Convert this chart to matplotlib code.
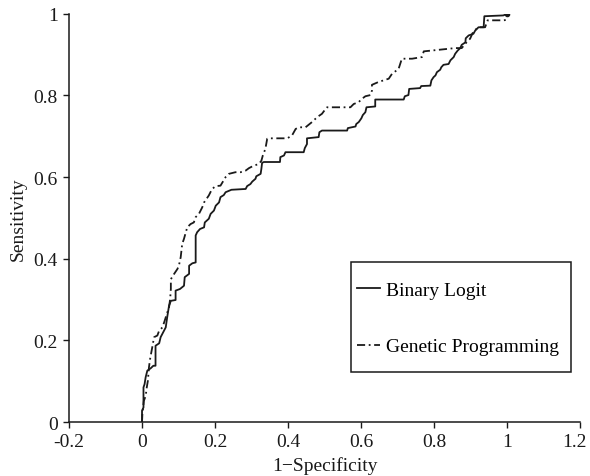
import matplotlib
matplotlib.use("Agg")
import matplotlib.pyplot as plt
import matplotlib.transforms as mtransforms
from matplotlib.patches import Rectangle

# ROC curves (1-specificity, sensitivity)
logit_x = [0.0, 0.0, 0.004, 0.004, 0.007, 0.010, 0.0145, 0.024, 0.031, 0.037, 0.037, 0.047,
           0.051, 0.058, 0.065, 0.069, 0.074, 0.079, 0.092, 0.092, 0.104, 0.115, 0.117, 0.129,
           0.129, 0.138, 0.147, 0.147, 0.151, 0.159, 0.170, 0.172, 0.183, 0.188, 0.197, 0.202,
           0.211, 0.215, 0.224, 0.229, 0.245, 0.284, 0.288, 0.297, 0.302, 0.311, 0.313, 0.325,
           0.327, 0.329, 0.334, 0.378, 0.379, 0.389, 0.393, 0.443, 0.446, 0.452, 0.452, 0.484,
           0.486, 0.493, 0.562, 0.564, 0.585, 0.587, 0.594, 0.601, 0.605, 0.612, 0.615, 0.639,
           0.639, 0.717, 0.720, 0.730, 0.732, 0.762, 0.765, 0.790, 0.793, 0.799, 0.804, 0.808,
           0.817, 0.820, 0.826, 0.840, 0.845, 0.854, 0.858, 0.865, 0.872, 0.876, 0.886, 0.887,
           0.895, 0.908, 0.913, 0.922, 0.936, 0.938, 0.990, 1.0]
logit_y = [0.0, 0.028, 0.036, 0.085, 0.093, 0.110, 0.126, 0.132, 0.138, 0.138, 0.187, 0.193,
           0.208, 0.220, 0.232, 0.257, 0.285, 0.297, 0.299, 0.322, 0.326, 0.334, 0.355, 0.363,
           0.383, 0.389, 0.391, 0.457, 0.465, 0.473, 0.477, 0.489, 0.498, 0.510, 0.518, 0.530,
           0.538, 0.551, 0.556, 0.563, 0.569, 0.571, 0.578, 0.583, 0.589, 0.596, 0.602, 0.608,
           0.620, 0.635, 0.637, 0.637, 0.649, 0.653, 0.661, 0.661, 0.671, 0.681, 0.695, 0.698,
           0.710, 0.714, 0.714, 0.720, 0.724, 0.730, 0.735, 0.744, 0.752, 0.759, 0.771, 0.773,
           0.790, 0.790, 0.798, 0.801, 0.816, 0.818, 0.823, 0.824, 0.837, 0.845, 0.849, 0.857,
           0.863, 0.869, 0.875, 0.877, 0.886, 0.894, 0.902, 0.910, 0.916, 0.924, 0.930, 0.940,
           0.947, 0.951, 0.959, 0.967, 0.967, 0.994, 0.996, 1.0]

gp_x = [0.0, 0.001, 0.005, 0.010, 0.013, 0.016, 0.019, 0.022, 0.028, 0.033, 0.042, 0.047,
        0.056, 0.062, 0.068, 0.074, 0.077, 0.079, 0.079, 0.088, 0.097, 0.101, 0.106, 0.110,
        0.115, 0.120, 0.124, 0.133, 0.142, 0.147, 0.156, 0.165, 0.170, 0.183, 0.192, 0.202,
        0.215, 0.229, 0.238, 0.256, 0.270, 0.284, 0.293, 0.306, 0.320, 0.327, 0.331, 0.338,
        0.343, 0.352, 0.398, 0.411, 0.421, 0.430, 0.448, 0.466, 0.480, 0.493, 0.503, 0.507,
        0.571, 0.580, 0.594, 0.603, 0.612, 0.626, 0.630, 0.630, 0.648, 0.676, 0.685, 0.703,
        0.712, 0.740, 0.767, 0.772, 0.794, 0.858, 0.876, 0.890, 0.899, 0.908, 0.922, 0.940,
        0.947, 0.990, 1.0]
gp_y = [0.0, 0.020, 0.052, 0.064, 0.085, 0.101, 0.134, 0.154, 0.183, 0.208, 0.212, 0.224,
        0.232, 0.248, 0.265, 0.281, 0.301, 0.326, 0.350, 0.363, 0.375, 0.383, 0.404, 0.436,
        0.449, 0.465, 0.477, 0.485, 0.489, 0.502, 0.510, 0.526, 0.538, 0.555, 0.571, 0.578,
        0.579, 0.600, 0.608, 0.612, 0.612, 0.616, 0.622, 0.628, 0.632, 0.640, 0.653, 0.669,
        0.694, 0.695, 0.695, 0.702, 0.718, 0.722, 0.722, 0.735, 0.747, 0.755, 0.767, 0.771,
        0.771, 0.779, 0.784, 0.792, 0.798, 0.801, 0.812, 0.826, 0.833, 0.841, 0.853, 0.865,
        0.890, 0.890, 0.894, 0.908, 0.910, 0.916, 0.916, 0.931, 0.939, 0.957, 0.967, 0.967,
        0.984, 0.984, 0.985]

x_ticks = [-0.2, 0, 0.2, 0.4, 0.6, 0.8, 1, 1.2]
x_labels = ["-0.2", "0", "0.2", "0.4", "0.6", "0.8", "1", "1.2"]
y_ticks = [0, 0.2, 0.4, 0.6, 0.8, 1]
y_labels = ["0", "0.2", "0.4", "0.6", "0.8", "1"]

plt.rcParams['font.family'] = ['Liberation Serif', 'DejaVu Serif']
plt.rcParams['font.size'] = 14

fig = plt.figure(figsize=(5.9, 4.77), dpi=100)
ax = fig.add_axes([0.117, 0.113, 0.866, 0.856])

ink = "#1a1a1a"
ax.plot(logit_x, logit_y, color=ink, lw=1.3, label="Binary Logit")
ax.plot(gp_x, gp_y, color=ink, lw=1.3, linestyle=(0, (4.5, 2, 1, 2)), label="Genetic Programming")
ax.plot([logit_x[-1]], [logit_y[-1]], "o", color=ink, ms=3)

ax.set_xlim(-0.2, 1.2)
ax.set_ylim(0, 1)
ax.set_xticks(x_ticks)
ax.set_xticklabels(x_labels)
ax.set_yticks(y_ticks)
ax.set_yticklabels(y_labels)
ax.tick_params(direction="out", length=4, width=1, pad=4, colors=ink)

# last x label sits right at the figure edge in the original, nudge it in a bit
last = ax.get_xticklabels()[-1]
last.set_transform(last.get_transform() + mtransforms.ScaledTranslation(-4 / 72, 0, fig.dpi_scale_trans))

for side in ["top", "right"]:
    ax.spines[side].set_visible(False)
for side in ["left", "bottom"]:
    ax.spines[side].set_linewidth(1.1)
    ax.spines[side].set_color(ink)

ax.set_xlabel("1\u2212Specificity", color=ink)
ax.set_ylabel("Sensitivity", color=ink)
ax.xaxis.set_label_coords(0.5, -0.083)
ax.yaxis.set_label_coords(-0.082, 0.5)

# legend frame drawn separately so the box can be taller than the text
ax.add_patch(Rectangle((0.552, 0.123), 0.430, 0.269, transform=ax.transAxes,
                       fill=False, edgecolor=ink, lw=1.1, clip_on=False))
ax.legend(loc="center left", bbox_to_anchor=(0.5636, 0.254), frameon=False,
          borderpad=0, borderaxespad=0, handlelength=1.2, handletextpad=0.3,
          labelspacing=2.0, fontsize=14)

fig.savefig("out.png", dpi=100)
